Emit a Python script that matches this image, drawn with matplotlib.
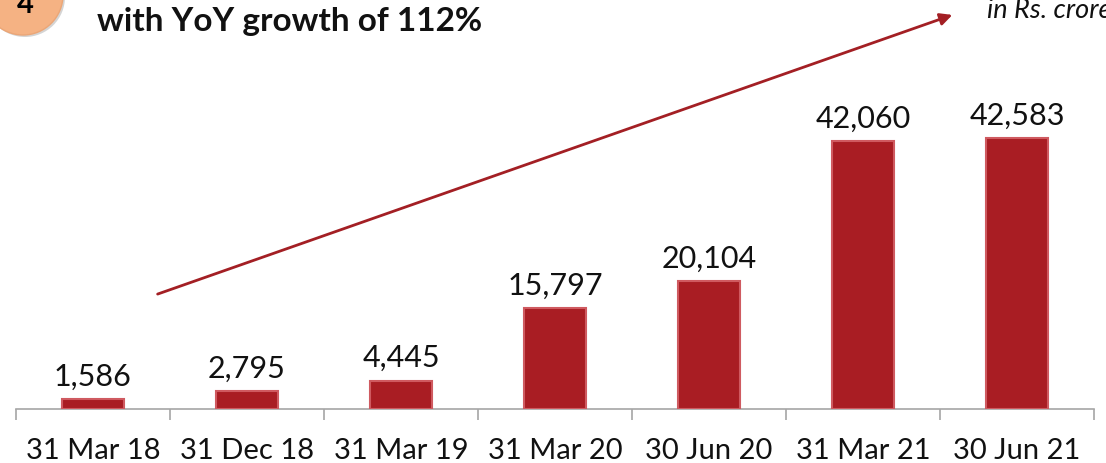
import numpy as np
import matplotlib.pyplot as plt
from matplotlib.patches import Circle, FancyArrowPatch

# data
periods = ["31 Mar 18", "31 Dec 18", "31 Mar 19", "31 Mar 20", "30 Jun 20", "31 Mar 21", "30 Jun 21"]
values = [1586, 2795, 4445, 15797, 20104, 42060, 42583]

plt.rcParams["font.family"] = ["Lato", "DejaVu Sans"]

W, H = 1106, 464
fig = plt.figure(figsize=(W / 100, H / 100), dpi=100)
ax = fig.add_axes([16 / W, (H - 410) / H, (1094 - 16) / W, 310 / H])

x = np.arange(len(values))
ax.bar(x, values, width=0.4, color="#A91D23", edgecolor="#CF5A60", linewidth=1.5, zorder=3)
for xi, v in zip(x, values):
    ax.text(xi, v + 1500, f"{v:,}", ha="center", va="bottom", fontsize=22, color="#111111")

ax.set_xlim(-0.5, len(values) - 0.5)
ax.set_ylim(0, 48700)
ax.set_yticks([])
for s in ["top", "right", "left"]:
    ax.spines[s].set_visible(False)
ax.spines["bottom"].set_color("#A6A6A6")
ax.spines["bottom"].set_linewidth(1.2)
ax.set_xticks(np.arange(len(values) + 1) - 0.5, minor=True)
ax.set_xticks(x)
ax.set_xticklabels(periods, fontsize=21, color="#111111")
ax.tick_params(axis="x", which="major", length=0, pad=20)
ax.tick_params(axis="x", which="minor", length=8, color="#A6A6A6", width=1.2)

# trend arrow
arrow = FancyArrowPatch((155 / W, 1 - 296 / H), (955 / W, 1 - 15 / H),
                        transform=fig.transFigure, arrowstyle="-|>", mutation_scale=18,
                        color="#A31F24", lw=2)
fig.patches.append(arrow)

# badge and header text (badge in inches so it stays round)
shadow = Circle((0.25, 4.66), 0.40, transform=fig.dpi_scale_trans,
                facecolor="#B8B8B8", edgecolor="none", alpha=0.6)
fig.patches.append(shadow)
circ = Circle((0.23, 4.68), 0.40, transform=fig.dpi_scale_trans,
              facecolor="#F5B283", edgecolor="#EBA677", lw=1)
fig.patches.append(circ)
fig.text(25 / W, 1 - 13 / H, "4", ha="center", va="baseline", fontsize=21, fontweight="bold")
fig.text(97 / W, 1 - 22 / H, "with YoY growth of 112%", ha="left", va="center",
         fontsize=24, fontweight="bold", color="#111111")
fig.text(987 / W, 1 - 10 / H, "in Rs. crore", ha="left", va="center",
         fontsize=19.5, style="italic", color="#111111")

fig.savefig("out.png", dpi=100)
